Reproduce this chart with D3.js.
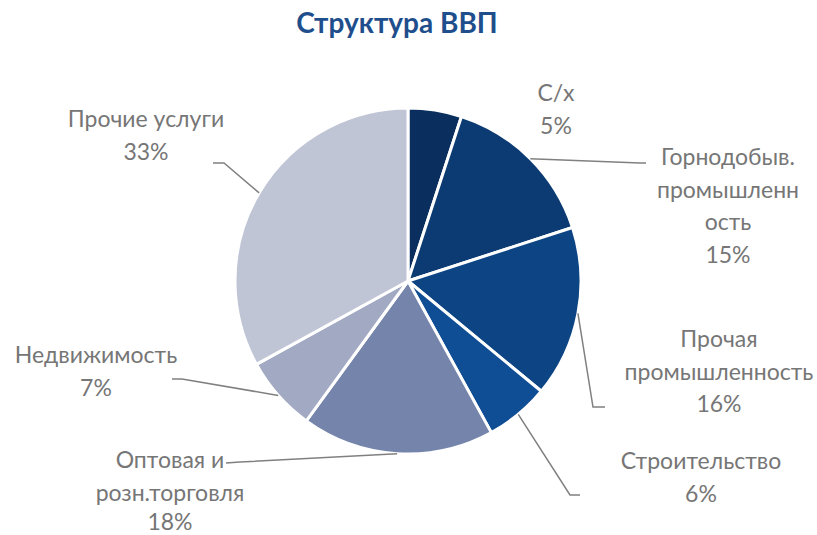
<!DOCTYPE html>
<html>
<head>
<meta charset="utf-8">
<script src="https://cdn.jsdelivr.net/npm/d3@7"></script>
<style>
  body { margin: 0; background: #fff; }
  text { font-family: Lato, "Open Sans", sans-serif; }
</style>
</head>
<body>
<div id="chart"></div>
<script>
// data
var categories = ["С/х", "Горнодобыв. промышленность", "Прочая промышленность", "Строительство",
  "Оптовая и розн.торговля", "Недвижимость", "Прочие услуги"];
var values = [5, 15, 16, 6, 18, 7, 33];
var labelLines = [
  ["С/х", "5%"],
  ["Горнодобыв.", "промышленн", "ость", "15%"],
  ["Прочая", "промышленность", "16%"],
  ["Строительство", "6%"],
  ["Оптовая и", "розн.торговля", "18%"],
  ["Недвижимость", "7%"],
  ["Прочие услуги", "33%"]
];
var colors = ["#0a2f5e", "#0b3b72", "#0d4584", "#0f4d94", "#7484ab", "#a1a9c3", "#c0c5d6"];

// layout
var svgWidth = 817, svgHeight = 535;
var cx = 408, cy = 281, radius = 173;
var lineGap = 32.5;

// label placement: center x, first baseline, leader elbow + end (null = no leader)
var labelPos = [
  { x: 556, y: 101, elbow: null },
  { x: 728, y: 165, elbow: [640, 163], end: [646, 163] },
  { x: 719, y: 347, elbow: [593, 407], end: [605, 407] },
  { x: 701, y: 469, elbow: [570, 495], end: [580, 495] },
  { x: 170, y: 468, elbow: [240, 462], end: [226, 463] },
  { x: 96, y: 363, elbow: [182, 379], end: [172, 379] },
  { x: 146, y: 127, elbow: [224, 163], end: [213, 163] }
];

var svg = d3.select("#chart")
  .append("svg")
  .attr("width", svgWidth)
  .attr("height", svgHeight);

svg.append("text")
  .attr("x", 397)
  .attr("y", 33)
  .attr("text-anchor", "middle")
  .attr("font-size", 28)
  .attr("font-weight", "bold")
  .attr("fill", "#1f4e8c")
  .text("Структура ВВП");

var pie = d3.pie().sort(null).value(d => d);
var arcs = pie(values);

var arc = d3.arc().innerRadius(0).outerRadius(radius);

var g = svg.append("g")
  .attr("transform", `translate(${cx}, ${cy})`);

g.selectAll("path.slice")
  .data(arcs)
  .enter()
  .append("path")
  .attr("class", "slice")
  .attr("d", arc)
  .attr("fill", (d, i) => colors[i])
  .attr("stroke", "#fff")
  .attr("stroke-width", 3)
  .attr("stroke-linejoin", "round");

// leader lines from arc edge at mid angle
arcs.forEach(function(d, i) {
  var p = labelPos[i];
  if (!p.elbow) return;
  var a = (d.startAngle + d.endAngle) / 2;
  var sx = cx + radius * Math.sin(a);
  var sy = cy - radius * Math.cos(a);
  svg.append("polyline")
    .attr("points", [[sx, sy], p.elbow, p.end].map(q => q.join(",")).join(" "))
    .attr("fill", "none")
    .attr("stroke", "#808080")
    .attr("stroke-width", 1.5);
});

// labels
labelLines.forEach(function(lines, i) {
  var p = labelPos[i];
  var t = svg.append("text")
    .attr("text-anchor", "middle")
    .attr("font-size", 23)
    .attr("fill", "#767676");
  lines.forEach(function(s, j) {
    t.append("tspan")
      .attr("x", p.x)
      .attr("y", Math.min(p.y + j * lineGap, 530))
      .text(s);
  });
});
</script>
</body>
</html>
